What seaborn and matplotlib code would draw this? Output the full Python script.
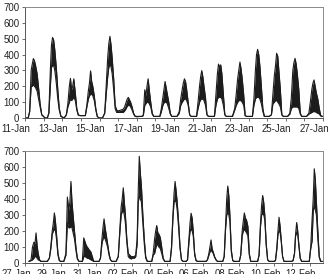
import numpy as np
import pandas as pd
import matplotlib
matplotlib.use("Agg")
import matplotlib.pyplot as plt
import matplotlib.transforms as mtransforms
import seaborn as sns

# time offsets (days) around each daily peak, shared by all peaks
offs = [-0.4, -0.28, -0.2, -0.12, -0.06, 0, 0.06, 0.12, 0.2, 0.28, 0.36, 0.45]

# ---- top panel: 11-Jan .. 27-Jan ----
top_labels = ["11-Jan", "13-Jan", "15-Jan", "17-Jan", "19-Jan",
              "21-Jan", "23-Jan", "25-Jan", "27-Jan"]
top_centers = [0.45, 1.48, 2.5, 3.52, 4.56, 5.55, 6.55, 7.52,
               8.56, 9.49, 10.45, 11.54, 12.49, 13.51, 14.5, 15.52]
top_hi = [
    [0, 0, 40, 300, 340, 375, 360, 330, 280, 190, 90, 20],
    [0, 0, 30, 300, 460, 508, 490, 430, 320, 180, 60, 10],
    [0, 20, 90, 200, 250, 180, 200, 247, 160, 60, 20, 15],
    [15, 15, 80, 170, 220, 297, 230, 200, 140, 60, 10, 0],
    [0, 30, 200, 380, 470, 515, 460, 380, 250, 80, 50, 45],
    [50, 55, 70, 100, 120, 130, 115, 100, 70, 30, 12, 10],
    [10, 10, 15, 178, 140, 200, 247, 180, 100, 30, 10, 10],
    [10, 10, 60, 130, 180, 230, 190, 150, 100, 30, 10, 10],
    [10, 40, 120, 180, 220, 247, 230, 180, 100, 20, 10, 10],
    [10, 10, 100, 200, 260, 299, 260, 200, 130, 20, 10, 10],
    [10, 10, 150, 280, 340, 320, 335, 280, 150, 20, 10, 10],
    [10, 60, 150, 250, 300, 353, 310, 250, 150, 15, 10, 10],
    [10, 10, 120, 300, 400, 433, 400, 330, 200, 60, 10, 10],
    [10, 20, 150, 270, 330, 408, 390, 300, 180, 20, 10, 10],
    [10, 30, 130, 300, 350, 376, 340, 280, 180, 30, 10, 10],
    [10, 30, 100, 180, 220, 240, 200, 160, 120, 60, 15, 10],
]
top_lo = [
    [0, 0, 40, 200, 200, 210, 200, 190, 170, 120, 70, 20],
    [0, 0, 30, 200, 320, 330, 330, 300, 220, 120, 50, 10],
    [0, 20, 70, 100, 120, 110, 120, 130, 110, 50, 18, 15],
    [15, 15, 70, 120, 140, 150, 150, 140, 110, 50, 10, 0],
    [0, 30, 150, 260, 320, 340, 320, 280, 180, 60, 35, 35],
    [35, 35, 45, 60, 75, 80, 80, 70, 50, 25, 10, 8],
    [10, 10, 15, 80, 90, 100, 100, 90, 70, 25, 10, 10],
    [10, 10, 40, 80, 95, 100, 100, 90, 60, 25, 10, 10],
    [10, 30, 80, 100, 110, 120, 120, 110, 80, 20, 10, 10],
    [10, 10, 60, 100, 115, 120, 120, 110, 80, 20, 10, 10],
    [10, 10, 80, 120, 130, 130, 130, 120, 80, 20, 10, 10],
    [10, 50, 80, 100, 110, 110, 110, 100, 80, 15, 10, 10],
    [10, 10, 80, 120, 130, 130, 130, 120, 90, 40, 10, 10],
    [10, 20, 90, 100, 110, 110, 100, 90, 70, 20, 10, 10],
    [10, 25, 60, 70, 70, 70, 70, 70, 60, 25, 10, 10],
    [10, 25, 30, 35, 40, 40, 40, 35, 30, 25, 12, 10],
]

# ---- bottom panel: 27-Jan .. 13-Feb ----
bot_labels = ["27-Jan", "29-Jan", "31-Jan", "02-Feb", "04-Feb",
              "06-Feb", "08-Feb", "10-Feb", "12-Feb"]
bot_centers = [0.62, 1.65, 2.58, 3.5, 4.44, 5.52, 6.42, 7.4, 8.43,
               9.33, 10.45, 11.39, 12.32, 13.35, 14.27, 15.26, 16.25]
bot_hi = [
    [10, 20, 100, 130, 120, 188, 110, 60, 20, 10, 10, 10],
    [10, 30, 100, 200, 250, 313, 260, 180, 60, 15, 10, 10],
    [10, 60, 412, 330, 380, 510, 380, 300, 200, 100, 30, 10],
    [10, 10, 157, 130, 110, 100, 90, 80, 70, 40, 10, 10],
    [10, 10, 30, 150, 220, 276, 220, 180, 120, 60, 20, 10],
    [10, 40, 200, 350, 400, 470, 380, 300, 150, 60, 50, 40],
    [40, 40, 50, 150, 450, 667, 560, 480, 300, 150, 40, 10],
    [10, 10, 60, 150, 200, 234, 190, 180, 160, 100, 30, 10],
    [10, 10, 100, 300, 430, 510, 450, 380, 250, 100, 20, 10],
    [10, 10, 20, 150, 250, 311, 280, 200, 60, 15, 10, 10],
    [10, 10, 20, 60, 100, 144, 90, 70, 40, 20, 10, 10],
    [10, 10, 40, 250, 400, 481, 420, 300, 80, 15, 10, 10],
    [10, 10, 50, 200, 260, 313, 280, 270, 230, 60, 10, 10],
    [10, 10, 50, 250, 360, 422, 380, 300, 120, 20, 10, 10],
    [10, 10, 15, 100, 200, 286, 230, 150, 40, 10, 10, 10],
    [10, 10, 15, 60, 180, 253, 200, 120, 30, 10, 10, 10],
    [10, 10, 100, 280, 400, 589, 520, 380, 200, 40, 10, 10],
]
bot_lo = [
    [10, 15, 20, 30, 40, 40, 30, 20, 15, 10, 10, 10],
    [10, 30, 90, 180, 200, 210, 200, 150, 50, 15, 10, 10],
    [10, 50, 250, 220, 220, 230, 220, 190, 150, 80, 25, 10],
    [10, 10, 40, 40, 35, 30, 30, 25, 20, 15, 10, 10],
    [10, 10, 30, 120, 150, 160, 150, 130, 100, 50, 20, 10],
    [10, 40, 180, 300, 320, 330, 300, 250, 130, 40, 30, 25],
    [30, 30, 40, 120, 380, 420, 400, 380, 250, 120, 30, 10],
    [10, 10, 50, 60, 90, 120, 110, 100, 90, 60, 25, 10],
    [10, 10, 90, 280, 380, 390, 380, 330, 220, 90, 20, 10],
    [10, 10, 20, 130, 200, 210, 200, 170, 50, 15, 10, 10],
    [10, 10, 20, 50, 70, 80, 70, 60, 35, 20, 10, 10],
    [10, 10, 40, 220, 300, 320, 300, 260, 70, 15, 10, 10],
    [10, 10, 50, 170, 200, 210, 200, 190, 170, 50, 10, 10],
    [10, 10, 50, 230, 300, 310, 300, 270, 110, 20, 10, 10],
    [10, 10, 15, 90, 180, 200, 190, 140, 40, 10, 10, 10],
    [10, 10, 15, 60, 170, 190, 180, 110, 30, 10, 10, 10],
    [10, 10, 90, 140, 330, 350, 330, 300, 150, 35, 10, 10],
]


def build(centers, hi, lo):
    rows = []
    for c, h, l in zip(centers, hi, lo):
        for o, vh, vl in zip(offs, h, l):
            rows.append((c + o, vh, vl))
    return pd.DataFrame(rows, columns=["t", "hi", "lo"])


sns.set_style("white")
plt.rcParams["font.family"] = ["Liberation Sans", "DejaVu Sans"]

fig = plt.figure(figsize=(3.35, 2.74), dpi=100)
ax1 = fig.add_axes([25 / 335, 1 - 118 / 274, 298 / 335, 111 / 274])
ax2 = fig.add_axes([25 / 335, 1 - 263 / 274, 298 / 335, 112 / 274])

ink = "#1c1c1c"
panels = [(ax1, build(top_centers, top_hi, top_lo), top_labels, 16),
          (ax2, build(bot_centers, bot_hi, bot_lo), bot_labels, 16.74)]

shift = mtransforms.ScaledTranslation(-9 / 100, 0, fig.dpi_scale_trans)

for ax, df, labels, xmax in panels:
    ax.fill_between(df["t"], df["lo"], df["hi"], color=ink, lw=0)
    sns.lineplot(data=df, x="t", y="hi", ax=ax, color=ink, lw=0.8, sort=False)
    sns.lineplot(data=df, x="t", y="lo", ax=ax, color=ink, lw=0.8, sort=False)
    ax.set_xlim(0, xmax)
    ax.set_ylim(0, 700)
    ax.set_yticks(range(0, 701, 100))
    ax.set_xticks(range(0, 17, 2))
    ax.set_xticklabels(labels)
    ax.set_xticks(range(0, 17), minor=True)
    ax.set_xlabel("")
    ax.set_ylabel("")
    ax.tick_params(axis="both", which="both", direction="out", length=2.5,
                   width=0.6, color="#555555", labelsize=6.9,
                   labelcolor="#222222", pad=1.5)
    ax.tick_params(axis="x", which="both", bottom=True)
    ax.tick_params(axis="y", left=True)
    for lab in ax.get_xticklabels():
        lab.set_transform(lab.get_transform() + shift)
    for side in ["top", "right"]:
        ax.spines[side].set_color("#8a8a8a")
        ax.spines[side].set_linewidth(0.7)
    for side in ["left", "bottom"]:
        ax.spines[side].set_color("#555555")
        ax.spines[side].set_linewidth(0.7)

fig.savefig("out.png", dpi=100)
